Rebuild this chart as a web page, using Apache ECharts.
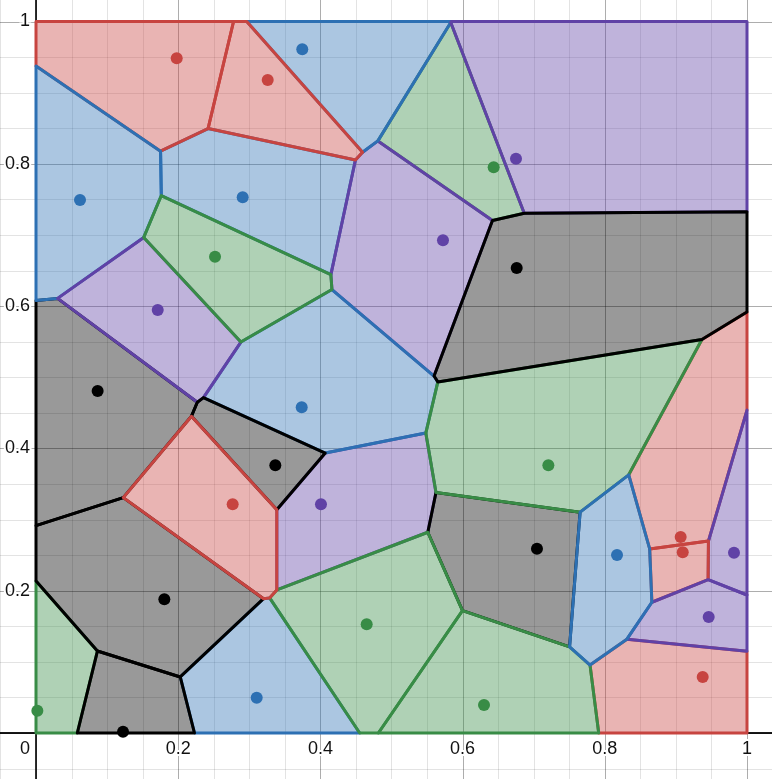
<!DOCTYPE html>
<html><head><meta charset="utf-8">
<script src="https://cdn.jsdelivr.net/npm/echarts@6/dist/echarts.min.js"></script>
<style>html,body{margin:0;padding:0;background:#fff}#c{width:772px;height:779px}</style>
</head><body><div id="c"></div>
<script>
// Voronoi sites, grouped by colour
const redSites    = [[0.1979,0.9483],[0.3259,0.9178],[0.2766,0.3214],[0.9067,0.2755],[0.9096,0.2540],[0.9377,0.0787]];
const blueSites   = [[0.3745,0.9609],[0.0619,0.7491],[0.2907,0.7529],[0.3737,0.4578],[0.8172,0.2502],[0.3104,0.0496]];
const greenSites  = [[0.6437,0.7951],[0.2518,0.6694],[0.7206,0.3762],[0.4651,0.1528],[0.6301,0.0394],[0.0019,0.0314]];
const purpleSites = [[0.6751,0.8072],[0.5724,0.6925],[0.1712,0.5945],[0.4008,0.3214],[0.9817,0.2534],[0.9461,0.1630]];
const blackSites  = [[0.6761,0.6535],[0.0867,0.4807],[0.3366,0.3762],[0.7046,0.2590],[0.1805,0.1879],[0.1224,0.0018]];
// drawing order of the cells (later on top)
const drawOrder = ['B3','G1','P4','K2','G6','B6','R6','R4','R1','P2','K4','B1','P1','G5','K5','K6','G4','P5','B4','G3','B2','P3','G2','K3','R3','R2','K1','R5','P6','B5'];
// tick labels
const xTickValues = [0.2,0.4,0.6,0.8,1];
const xTickLabels = ['0.2','0.4','0.6','0.8','1'];
const yTickValues = [0.2,0.4,0.6,0.8,1];
const yTickLabels = ['0.2','0.4','0.6','0.8','1'];
const originLabel = '0';

const groups = {
  R:{sites:redSites,color:'#c74440',fill:'rgba(199,68,64,0.4)'},
  B:{sites:blueSites,color:'#2d70b3',fill:'rgba(45,112,179,0.4)'},
  G:{sites:greenSites,color:'#388c46',fill:'rgba(56,140,70,0.4)'},
  P:{sites:purpleSites,color:'#6042a6',fill:'rgba(96,66,166,0.4)'},
  K:{sites:blackSites,color:'#000000',fill:'rgba(0,0,0,0.4)'}
};
const allSites = [];
Object.keys(groups).forEach(k=>groups[k].sites.forEach((s,i)=>allSites.push({key:k+(i+1),site:s,color:groups[k].color,fill:groups[k].fill})));

function clip(poly,a,b,c){
  const out=[];const n=poly.length;
  for(let k=0;k<n;k++){
    const P=poly[k],Q=poly[(k+1)%n];
    const fp=a*P[0]+b*P[1]-c,fq=a*Q[0]+b*Q[1]-c;
    if(fp<=0) out.push(P);
    if((fp<0&&fq>0)||(fp>0&&fq<0)){const t=fp/(fp-fq);out.push([P[0]+t*(Q[0]-P[0]),P[1]+t*(Q[1]-P[1])]);}
  }
  return out;
}
function voronoiCell(s){
  let poly=[[0,0],[1,0],[1,1],[0,1]];
  allSites.forEach(o=>{
    if(o.site===s) return;
    const [xi,yi]=s,[xj,yj]=o.site;
    poly=clip(poly,2*(xj-xi),2*(yj-yi),xj*xj+yj*yj-xi*xi-yi*yi);
  });
  return poly;
}
const cells = drawOrder.map(key=>{const s=allSites.find(a=>a.key===key);return {site:s.site,color:s.color,fill:s.fill,poly:voronoiCell(s.site)};});

const xMin=-36/711, xMax=(772-36)/711, yMin=-(779-733)/711.5, yMax=733/711.5;
const gridValues=[];for(let k=-1;k<=20;k++) gridValues.push(k/20);

const chart=echarts.init(document.getElementById('c'),null,{renderer:'canvas'});
const font='18px "Liberation Sans", Arial, sans-serif';
function txt(x,y,text,align){
  return {type:'text',style:{text:text,x:x,y:y,fill:'#111',font:font,align:align,textAlign:align,verticalAlign:'middle',textVerticalAlign:'middle',stroke:'#fff',lineWidth:4},z2:10};
}
chart.setOption({
  animation:false,
  grid:{left:0,right:0,top:0,bottom:0},
  xAxis:{type:'value',min:xMin,max:xMax,show:false},
  yAxis:{type:'value',min:yMin,max:yMax,show:false},
  series:[
    {type:'custom',z:1,clip:false,data:gridValues.map(v=>[v,v]),encode:{x:0,y:1},
     renderItem:(p,api)=>{
       const v=gridValues[p.dataIndex];
       const major=Math.round(v*100)%20===0;
       const col=major?'rgba(0,0,0,0.32)':'rgba(0,0,0,0.11)';
       const px=Math.round(api.coord([v,0])[0])+0.5, py=Math.round(api.coord([0,v])[1])+0.5;
       return {type:'group',children:[
         {type:'line',shape:{x1:px,y1:0,x2:px,y2:779},style:{stroke:col,lineWidth:1}},
         {type:'line',shape:{x1:0,y1:py,x2:772,y2:py},style:{stroke:col,lineWidth:1}}
       ]};
     }},
    {type:'custom',z:2,clip:false,data:[[0,0]],encode:{x:0,y:1},
     renderItem:(p,api)=>{
       const o=api.coord([0,0]);
       return {type:'group',children:[
         {type:'line',shape:{x1:o[0],y1:0,x2:o[0],y2:779},style:{stroke:'rgba(0,0,0,0.9)',lineWidth:1.8}},
         {type:'line',shape:{x1:0,y1:o[1],x2:772,y2:o[1]},style:{stroke:'rgba(0,0,0,0.9)',lineWidth:1.8}}
       ]};
     }},
    {type:'custom',z:3,clip:false,data:cells.map(c=>c.site),encode:{x:0,y:1},
     renderItem:(p,api)=>{
       const c=cells[p.dataIndex];
       return {type:'polygon',shape:{points:c.poly.map(q=>api.coord(q))},style:{fill:c.fill,stroke:c.color,lineWidth:3,lineJoin:'round'}};
     }},
    {type:'custom',z:4,clip:false,data:xTickValues.map(v=>[v,0]),encode:{x:0,y:1},
     renderItem:(p,api)=>{
       const q=api.coord([xTickValues[p.dataIndex],0]);
       return txt(q[0],q[1]+16,xTickLabels[p.dataIndex],'center');
     }},
    {type:'custom',z:4,clip:false,data:yTickValues.map(v=>[0,v]),encode:{x:0,y:1},
     renderItem:(p,api)=>{
       const q=api.coord([0,yTickValues[p.dataIndex]]);
       return txt(q[0]-6,q[1],yTickLabels[p.dataIndex],'right');
     }},
    {type:'custom',z:4,clip:false,data:[[0,0]],encode:{x:0,y:1},
     renderItem:(p,api)=>{
       const q=api.coord([0,0]);
       return txt(q[0]-6,q[1]+16,originLabel,'right');
     }},
    {type:'scatter',z:5,symbolSize:12,silent:true,
     data:allSites.map(s=>({value:s.site,itemStyle:{color:s.color,opacity:1}}))}
  ]
});
</script></body></html>
